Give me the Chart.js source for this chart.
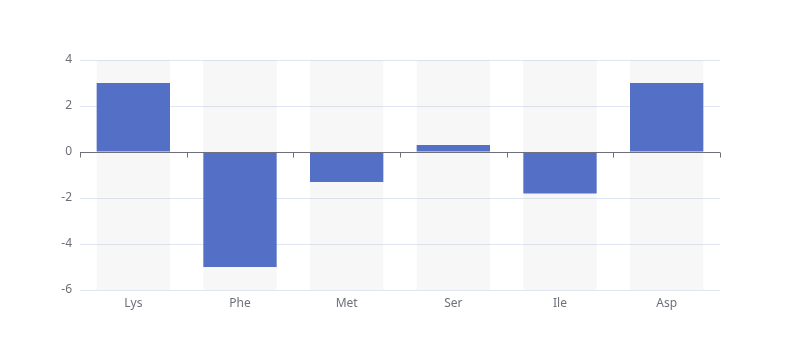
<!DOCTYPE html>
<html>
<head>
<meta charset="utf-8">
<script src="https://cdn.jsdelivr.net/npm/chart.js@4/dist/chart.umd.min.js"></script>
<style>
    body { margin: 0; background: #fff; }
    #wrap { width: 800px; height: 360px; }
</style>
</head>
<body>
<div id="wrap"><canvas id="myChart"></canvas></div>
<script>
const labels = ['Lys', 'Phe', 'Met', 'Ser', 'Ile', 'Asp'];
const values = [3, -5, -1.3, 0.3, -1.8, 3];
const yMin = -6;
const yMax = 4;
const yStep = 2;

// gray band behind each bar, full height of the plot
const barBackground = {
    id: 'barBackground',
    beforeDatasetsDraw(chart) {
        const ctx = chart.ctx;
        const area = chart.chartArea;
        const meta = chart.getDatasetMeta(0);
        ctx.save();
        ctx.fillStyle = 'rgba(180,180,180,0.11)';
        meta.data.forEach(function (bar) {
            ctx.fillRect(bar.x - bar.width / 2, area.top, bar.width, area.bottom - area.top);
        });
        ctx.restore();
    }
};

// category axis line sitting on zero, with ticks between categories
const zeroAxis = {
    id: 'zeroAxis',
    afterDatasetsDraw(chart) {
        const ctx = chart.ctx;
        const area = chart.chartArea;
        const x = chart.scales.x;
        const y0 = Math.round(chart.scales.y.getPixelForValue(0)) + 0.5;
        const step = (area.right - area.left) / labels.length;
        ctx.save();
        ctx.strokeStyle = '#6e7079';
        ctx.lineWidth = 1;
        ctx.beginPath();
        ctx.moveTo(area.left, y0);
        ctx.lineTo(area.right, y0);
        for (let i = 0; i <= labels.length; i++) {
            const tx = Math.round(x.getPixelForValue(0) - step / 2 + i * step) + 0.5;
            ctx.moveTo(tx, y0);
            ctx.lineTo(tx, y0 + 5);
        }
        ctx.stroke();
        ctx.restore();
    }
};

const el = document.getElementById('myChart');
new Chart(el, {
    type: 'bar',
    data: {
        labels: labels,
        datasets: [{
            data: values,
            backgroundColor: '#5470c6',
            borderWidth: 0,
            categoryPercentage: 1,
            barPercentage: 0.6875
        }]
    },
    options: {
        responsive: true,
        maintainAspectRatio: false,
        animation: false,
        layout: {
            padding: { top: 60, right: 80, bottom: 0, left: 0 }
        },
        plugins: {
            legend: { display: false },
            tooltip: { enabled: false }
        },
        scales: {
            x: {
                grid: { display: false },
                border: { display: false },
                ticks: {
                    color: '#6e7079',
                    font: { family: 'Noto Sans', size: 12 },
                    padding: -2
                },
                afterFit: function (scale) { scale.height = 70; }
            },
            y: {
                min: yMin,
                max: yMax,
                grid: { color: '#e0e6f1', drawTicks: false },
                border: { display: false },
                ticks: {
                    stepSize: yStep,
                    color: '#6e7079',
                    font: { family: 'Noto Sans', size: 12 },
                    padding: 8
                },
                afterFit: function (scale) { scale.width = 80; }
            }
        }
    },
    plugins: [barBackground, zeroAxis]
});
</script>
</body>
</html>
